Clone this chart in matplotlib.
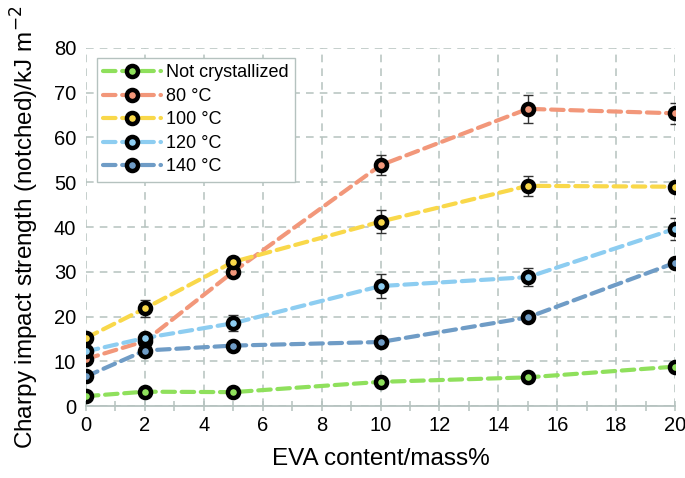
import matplotlib.pyplot as plt
import numpy as np

plt.rcParams['font.family'] = ['Liberation Sans', 'DejaVu Sans']

# data
eva = [0, 2, 5, 10, 15, 20]
labels = ["Not crystallized", "80 °C", "100 °C", "120 °C", "140 °C"]
not_cryst = [2.2, 3.2, 3.1, 5.4, 6.4, 8.8]
t80 = [10.5, 14.5, 30.0, 53.8, 66.4, 65.4]
t100 = [15.2, 21.8, 32.2, 41.2, 49.2, 49.0]
t120 = [12.2, 15.2, 18.5, 26.8, 28.8, 39.6]
t140 = [6.6, 12.4, 13.5, 14.3, 19.8, 32.0]
err_not = [0.5, 0.5, 0.5, 0.6, 0.6, 0.8]
err80 = [0.8, 0.8, 1.0, 2.2, 3.1, 2.4]
err100 = [0.8, 2.0, 1.0, 2.6, 2.3, 0.8]
err120 = [0.8, 0.8, 1.8, 2.6, 2.0, 2.4]
err140 = [0.6, 0.8, 0.8, 0.8, 0.8, 1.0]

series = [not_cryst, t80, t100, t120, t140]
errors = [err_not, err80, err100, err120, err140]
colors = ['#8fe05c', '#f2977a', '#f9d84a', '#8dcdf1', '#6f9cc6']

fig = plt.figure(figsize=(6.85, 4.78), dpi=100)
ax = fig.add_axes([0.1255, 0.1506, 0.86, 0.749])

for vals, err, col, lab in zip(series, errors, colors, labels):
    ax.errorbar(eva, vals, yerr=err, fmt='none', ecolor='#333333',
                elinewidth=1.0, capsize=3.5, capthick=1.0, zorder=3)
    ax.plot(eva, vals, color=col, linewidth=3, dashes=(3, 1.6),
             dash_capstyle='round', marker='o', markersize=8,
             markerfacecolor=col, markeredgecolor='black',
             markeredgewidth=3.2, label=lab, zorder=4)

ax.set_xlim(0, 20)
ax.set_ylim(0, 80)
ax.set_xticks(np.arange(0, 21, 2))
ax.set_xticks(np.arange(0, 21, 1), minor=True)
ax.set_yticks(np.arange(0, 81, 10))
ax.grid(True, which='major', color='#b5c2bf', linestyle=(0, (5, 4)), linewidth=1.1)
for s in ['left', 'top', 'right']:
    ax.spines[s].set_visible(False)
ax.spines['bottom'].set_color('#b5c2bf')
ax.spines['bottom'].set_linewidth(1.3)
ax.tick_params(axis='x', which='both', direction='inout', length=7,
               color='#b5c2bf', width=1.1, labelsize=14.5, pad=4)
ax.tick_params(axis='y', length=0, labelsize=14.5, pad=7)

ax.set_xlabel("EVA content/mass%", fontsize=17.5, labelpad=9)
ax.set_ylabel("Charpy impact strength (notched)/kJ m$^{-2}$", fontsize=17.5, labelpad=9)

leg = ax.legend(loc='upper left', bbox_to_anchor=(0.012, 0.982), fontsize=13,
                handlelength=3.2, frameon=True, fancybox=False,
                borderpad=0.35, labelspacing=0.36, handletextpad=0.3,
                borderaxespad=0.2)
leg.get_frame().set_edgecolor('#b5c2bf')
leg.get_frame().set_linewidth(1.0)
leg.get_frame().set_alpha(1)

fig.savefig("out.png", dpi=100)
